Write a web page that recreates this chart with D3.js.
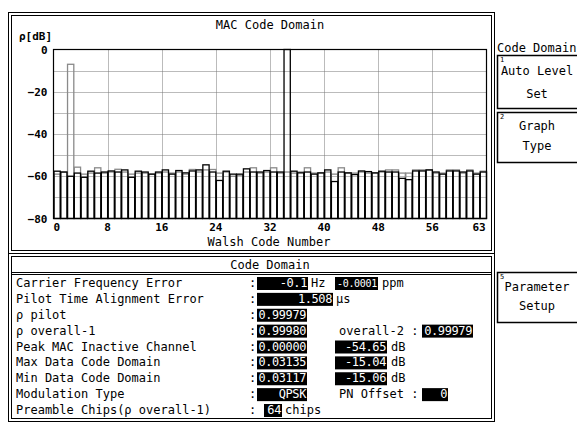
<!DOCTYPE html>
<html>
<head>
<meta charset="utf-8">
<script src="https://cdn.jsdelivr.net/npm/d3@7"></script>
<style>
  html, body { margin: 0; padding: 0; background: #fff; }
  svg { display: block; }
  text { font-family: "DejaVu Sans Mono", monospace; fill: #000; }
</style>
</head>
<body>
<svg id="chart" width="577" height="423"></svg>
<script>
// Walsh code axis
const codes = d3.range(64);
const xTicks = [0, 8, 16, 24, 32, 40, 48, 56, 63];
const yTicks = [0, -20, -40, -60, -80];

// Relative power per Walsh code [dB]; black = I branch, gray = Q branch
const powerI = [-57.6, -58, -60, -58.5, -60.5, -57.6, -58.5, -58, -57.5, -58, -57, -60.5, -57.6, -58, -59, -58,
                -57, -59, -57.3, -58.4, -57.5, -57, -54.6, -58, -62, -57.6, -59, -59, -56.5, -58, -58, -57.3,
                -58, -58, 0.0, -57.6, -58.4, -58, -59, -58.4, -57, -62.5, -58, -58.4, -59.2, -57.5, -57.8, -58.4,
                -57.6, -58, -58, -61, -61.6, -57.5, -57.5, -57, -58, -59, -57.5, -57.5, -58, -57.5, -59, -58];
const powerQ = [-59, -58, -7, -55.7, -59, -58.5, -56, -58.5, -58, -56.7, -58, -59, -58.5, -58.5, -59, -58.5,
                -58, -58.5, -58, -59, -56.8, -58, -57, -56.8, -58.5, -58, -60, -59.5, -58, -56, -58.5, -58,
                -56, -58.5, -58, -58.5, -58, -56, -58.5, -58.5, -58, -59, -56, -58.5, -58.5, -58, -58.5, -58.5,
                -58, -57, -57, -58.5, -58.5, -57, -57, -57, -58.5, -58.5, -57, -57, -58.5, -57, -58.5, -57.6];

// Measurement table
const rowLabels = ["Carrier Frequency Error", "Pilot Time Alignment Error", "\u03c1 pilot", "\u03c1 overall-1",
                   "Peak MAC Inactive Channel", "Max Data Code Domain", "Min Data Code Domain",
                   "Modulation Type", "Preamble Chips(\u03c1 overall-1)"];
const rowValues = ["-0.1", "1.508", "0.99979", "0.99980", "0.00000", "0.03135", "0.03117", "QPSK", "64"];
const rowUnits = ["Hz", "\u00b5s", "", "", "", "", "", "", "chips"];
const extraLabels = ["", "", "", "overall-2 :", "", "", "", "PN Offset :", ""];
const extraValues = ["-0.0001", "", "", "0.99979", "-54.65", "-15.04", "-15.06", "0", ""];
const extraUnits = ["ppm", "", "", "", "dB", "dB", "dB", "", ""];

// Soft keys
const softKeys = [
  {num: "1", lines: ["Auto Level", "Set"], y0: 55, y1: 108, l1: 20, l2: 43},
  {num: "2", lines: ["Graph", "Type"], y0: 112, y1: 162, l1: 18, l2: 38},
  {num: "5", lines: ["Parameter", "Setup"], y0: 272, y1: 322, l1: 19, l2: 38}
];

const svg = d3.select("#chart");

// ---------- graph panel ----------
function doubleFrame(x0, y0, x1, y1) {
  svg.append("rect").attr("x", x0).attr("y", y0).attr("width", x1 - x0).attr("height", y1 - y0)
    .attr("fill", "none").attr("stroke", "#000").attr("stroke-width", 1);
  svg.append("rect").attr("x", x0 + 3).attr("y", y0 + 3).attr("width", x1 - x0 - 6).attr("height", y1 - y0 - 6)
    .attr("fill", "none").attr("stroke", "#000").attr("stroke-width", 1);
}
doubleFrame(8.5, 12.5, 494.5, 253.5);

svg.append("text").attr("x", 270).attr("y", 29).attr("text-anchor", "middle")
  .attr("font-size", 12).text("MAC Code Domain");
svg.append("text").attr("x", 19).attr("y", 40).attr("font-size", 11).attr("font-weight", "bold")
  .text("\u03c1[dB]");

const plot = {left: 53.5, right: 486.5, top: 49.5, bottom: 218.5};
const x = d3.scaleBand().domain(codes).range([plot.left, plot.right]).paddingInner(0).paddingOuter(0);
const y = d3.scaleLinear().domain([-80, 0]).range([plot.bottom, plot.top]);

const g = svg.append("g");

// dotted grid
g.append("g").selectAll("line").data(d3.range(-70, 0, 10)).join("line")
  .attr("x1", plot.left).attr("x2", plot.right)
  .attr("y1", d => Math.round(y(d)) + 0.5).attr("y2", d => Math.round(y(d)) + 0.5)
  .attr("stroke", "#777").attr("stroke-dasharray", "1,1");
g.append("g").selectAll("line").data([8, 16, 24, 32, 40, 48, 56]).join("line")
  .attr("x1", d => Math.round(x(d)) + 0.5).attr("x2", d => Math.round(x(d)) + 0.5)
  .attr("y1", plot.top).attr("y2", plot.bottom)
  .attr("stroke", "#777").attr("stroke-dasharray", "1,1");

// bars: gray (Q) then black (I)
function bars(values, color) {
  g.append("g").selectAll("rect").data(values).join("rect")
    .attr("x", (d, i) => x(i) + 0.5)
    .attr("width", x.bandwidth() - 0.5)
    .attr("y", d => y(d))
    .attr("height", d => plot.bottom - y(d))
    .attr("fill", "none").attr("stroke", color).attr("stroke-width", 1.3);
}
bars(powerQ, "#8a8a8a");
bars(powerI, "#000");

g.append("rect").attr("x", plot.left).attr("y", plot.top)
  .attr("width", plot.right - plot.left).attr("height", plot.bottom - plot.top)
  .attr("fill", "none").attr("stroke", "#000").attr("stroke-width", 1.2);

// y axis labels
const yAxis = d3.axisLeft(y).tickValues(yTicks).tickSize(0).tickPadding(6).tickFormat(d3.format("d"));
svg.append("g").attr("transform", `translate(${plot.left},0)`).call(yAxis)
  .call(s => s.select(".domain").remove())
  .selectAll("text").attr("font-size", 11).attr("font-weight", "bold")
  .attr("font-family", "DejaVu Sans Mono");

// x axis labels
const xAxis = d3.axisBottom(x).tickValues(xTicks).tickSize(0).tickPadding(5);
const xg = svg.append("g").attr("transform", `translate(0,${plot.bottom})`).call(xAxis);
xg.select(".domain").remove();
xg.selectAll(".tick").attr("transform", d => {
  const px = d === 63 ? x(63) + x.bandwidth() / 2 - 4 : x(d) + (d === 0 ? x.bandwidth() / 2 : 0);
  return `translate(${px},0)`;
});
xg.selectAll("text").attr("font-size", 11).attr("font-weight", "bold").attr("font-family", "DejaVu Sans Mono");

svg.append("text").attr("x", 269).attr("y", 246).attr("text-anchor", "middle")
  .attr("font-size", 12).text("Walsh Code Number");

// ---------- result table ----------
doubleFrame(8.5, 253.5, 494.5, 421.5);
svg.append("line").attr("x1", 11).attr("x2", 492).attr("y1", 272.5).attr("y2", 272.5).attr("stroke", "#000");
svg.append("line").attr("x1", 11).attr("x2", 492).attr("y1", 274.5).attr("y2", 274.5).attr("stroke", "#000");
svg.append("text").attr("x", 270).attr("y", 269).attr("text-anchor", "middle")
  .attr("font-size", 12).text("Code Domain");

const row = d3.scaleLinear().domain([0, 8]).range([287, 414]);

// white value on a black field, right-aligned; font shrinks if the value would spill out of the field
function valueBox(x0, x1, yy, txt) {
  svg.append("rect").attr("x", x0).attr("y", yy - 10).attr("width", x1 - x0).attr("height", 13).attr("fill", "#000");
  const t = svg.append("text").attr("x", x1 - 1).attr("y", yy).attr("text-anchor", "end")
    .attr("font-size", 12).style("fill", "#fff").attr("letter-spacing", -0.4).text(txt);
  const avail = x1 - x0 - 3;
  const len = t.node().getComputedTextLength();
  if (len > avail) t.attr("font-size", Math.floor(12 * avail / len * 10) / 10).attr("letter-spacing", -0.3);
}

const box1 = [[257, 308], [257, 333], [257, 307], [257, 307], [257, 307], [257, 307], [257, 307], [257, 307], [264, 282]];
rowLabels.forEach((lab, i) => {
  const yy = row(i);
  svg.append("text").attr("x", 16).attr("y", yy).attr("font-size", 12).text(lab);
  svg.append("text").attr("x", 249).attr("y", yy).attr("font-size", 12).text(":");
  valueBox(box1[i][0], box1[i][1], yy, rowValues[i]);
  if (rowUnits[i]) svg.append("text").attr("x", box1[i][1] + 3).attr("y", yy).attr("font-size", 12).text(rowUnits[i]);
});

const box2 = {0: [335, 378], 3: [422, 473], 4: [335, 387], 5: [335, 387], 6: [335, 387], 7: [422, 448]};
extraValues.forEach((v, i) => {
  const yy = row(i);
  if (extraLabels[i]) svg.append("text").attr("x", 339).attr("y", yy).attr("font-size", 12).text(extraLabels[i]);
  if (v) valueBox(box2[i][0], box2[i][1], yy, v);
  if (extraUnits[i]) svg.append("text").attr("x", box2[i][1] + 4).attr("y", yy).attr("font-size", 12).text(extraUnits[i]);
});

// ---------- soft key menu ----------
svg.append("text").attr("x", 497).attr("y", 52).attr("font-size", 12).text("Code Domain");
softKeys.forEach(k => {
  svg.append("rect").attr("x", 497.5).attr("y", k.y0 + 0.5).attr("width", 90).attr("height", k.y1 - k.y0)
    .attr("fill", "#fff").attr("stroke", "#000").attr("stroke-width", 1.5);
  svg.append("text").attr("x", 500).attr("y", k.y0 + 7).attr("font-size", 7).text(k.num);
  svg.append("text").attr("x", 537).attr("y", k.y0 + k.l1).attr("text-anchor", "middle").attr("font-size", 12).text(k.lines[0]);
  svg.append("text").attr("x", 537).attr("y", k.y0 + k.l2).attr("text-anchor", "middle").attr("font-size", 12).text(k.lines[1]);
});
</script>
</body>
</html>
